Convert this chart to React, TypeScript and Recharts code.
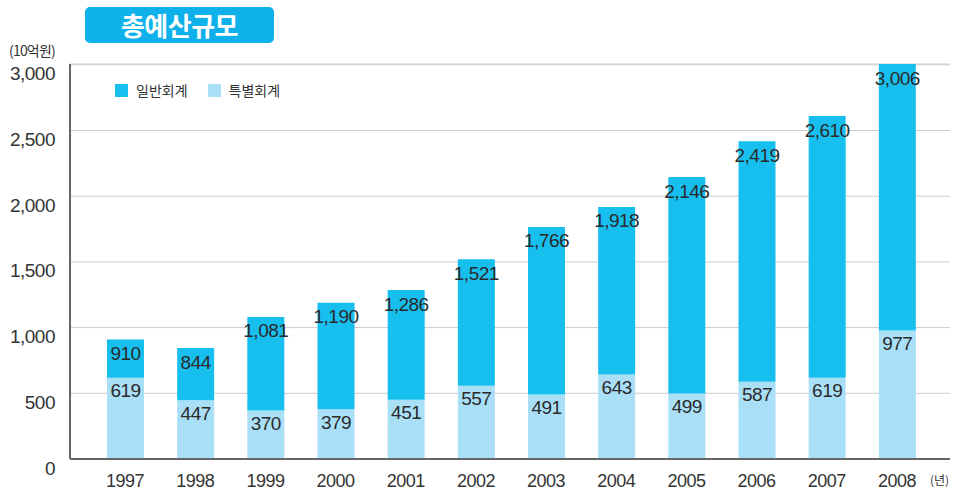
import { BarChart, Bar, XAxis, YAxis, CartesianGrid, LabelList } from "recharts";

// ── Data ──
const YEARS = ["1997", "1998", "1999", "2000", "2001", "2002", "2003", "2004", "2005", "2006", "2007", "2008"];
const TOTAL = [910, 844, 1081, 1190, 1286, 1521, 1766, 1918, 2146, 2419, 2610, 3006];
const SPECIAL = [619, 447, 370, 379, 451, 557, 491, 643, 499, 587, 619, 977];
const Y_TICKS = [0, 500, 1000, 1500, 2000, 2500, 3000];

const GENERAL_COLOR = "#17bfef";
const SPECIAL_COLOR = "#aadff8";
const FONT = "'Liberation Sans', Arial, 'Noto Sans CJK KR', sans-serif";
const KR_FONT = "'Noto Sans CJK KR', sans-serif";

const data = YEARS.map((year, i) => ({
  year,
  special: SPECIAL[i],
  general: TOTAL[i] - SPECIAL[i],
  total: TOTAL[i],
}));

const fmt = (v: number) => v.toLocaleString("en-US");

const YTick = ({ x, y, payload }: any) => (
  <text x={x} y={y + 9} textAnchor="end" dominantBaseline="central" fontSize={19} fill="#333" fontFamily={FONT} letterSpacing={-0.5}>
    {fmt(payload.value)}
  </text>
);

const XTick = ({ x, y, payload }: any) => (
  <text x={x} y={y} textAnchor="middle" dominantBaseline="central" fontSize={18} fill="#333" fontFamily={FONT} letterSpacing={-0.5}>
    {payload.value}
  </text>
);

const segLabel = (key: "total" | "special", dy: number) => (props: any) => {
  const { x, y, width, index } = props;
  const v = data[index][key];
  return (
    <text x={x + width / 2} y={y + dy} textAnchor="middle" dominantBaseline="central" fontSize={19} fill="#2a2a2a" fontFamily={FONT} letterSpacing={-0.5}>
      {fmt(v)}
    </text>
  );
};

export default function App() {
  return (
    <div style={{ position: "absolute", left: 0, top: 0, width: 954, height: 490, background: "#fff" }}>
      {/* title badge */}
      <div
        style={{
          position: "absolute", left: 85, top: 7, width: 189, height: 36, borderRadius: 5,
          background: "#0eb1e9", color: "#fff", fontFamily: KR_FONT, fontWeight: 700,
          fontSize: 26, lineHeight: "36px", textAlign: "center", letterSpacing: -0.5,
        }}
      >
        총예산규모
      </div>
      {/* unit */}
      <div style={{ position: "absolute", left: 9, top: 40, fontFamily: KR_FONT, fontSize: 14, color: "#333", letterSpacing: -0.8 }}>
        (10억원)
      </div>
      <div style={{ position: "absolute", left: 930, top: 471, fontFamily: KR_FONT, fontSize: 12, color: "#333" }}>
        (년)
      </div>
      {/* legend */}
      <div style={{ position: "absolute", left: 115, top: 80, display: "flex", alignItems: "center", fontFamily: KR_FONT, fontSize: 14, color: "#333" }}>
        <span style={{ width: 13, height: 13, background: GENERAL_COLOR, display: "inline-block", marginRight: 8 }} />
        <span style={{ marginRight: 20 }}>일반회계</span>
        <span style={{ width: 13, height: 13, background: SPECIAL_COLOR, display: "inline-block", marginRight: 8 }} />
        <span>특별회계</span>
      </div>

      <BarChart
        width={954}
        height={490}
        data={data}
        margin={{ top: 64, right: 4, left: 0, bottom: 1 }}
        barSize={37}
      >
        <CartesianGrid vertical={false} stroke="#cccccc" strokeWidth={1} />
        <XAxis
          dataKey="year"
          height={30}
          tick={<XTick />}
          tickLine={false}
          tickSize={0}
          tickMargin={22}
          axisLine={{ stroke: "#666", strokeWidth: 2 }}
          padding={{ left: 20, right: 18 }}
        />
        <YAxis
          width={70}
          domain={[0, "dataMax"]}
          ticks={Y_TICKS}
          tick={<YTick />}
          tickLine={false}
          tickSize={0}
          tickMargin={15}
          axisLine={{ stroke: "#666", strokeWidth: 2 }}
        />
        <Bar dataKey="special" stackId="a" fill={SPECIAL_COLOR} isAnimationActive={false}>
          <LabelList dataKey="special" content={segLabel("special", 13)} />
        </Bar>
        <Bar dataKey="general" stackId="a" fill={GENERAL_COLOR} isAnimationActive={false}>
          <LabelList dataKey="total" content={segLabel("total", 14)} />
        </Bar>
      </BarChart>
    </div>
  );
}
